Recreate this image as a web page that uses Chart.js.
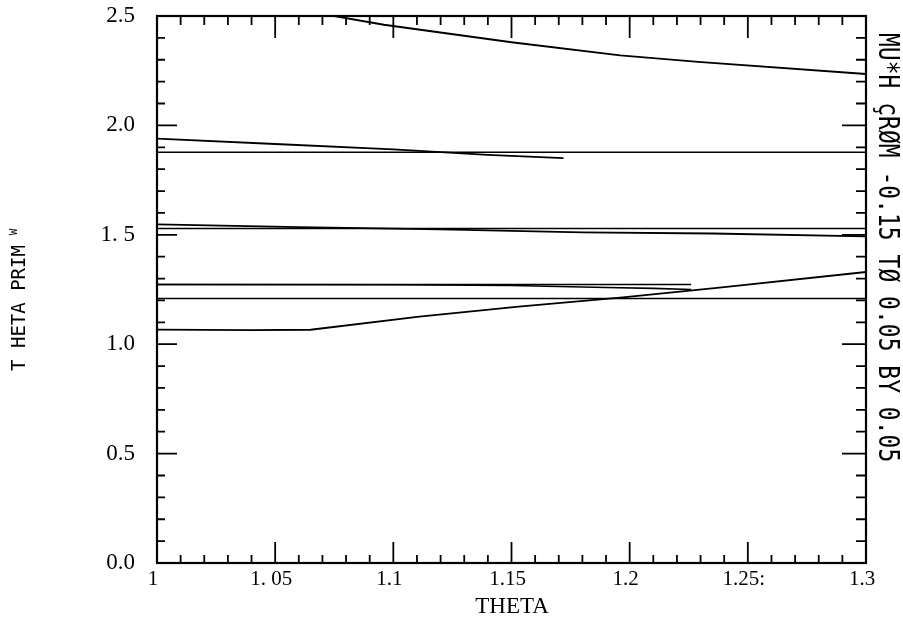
<!DOCTYPE html>
<html>
<head>
<meta charset="utf-8">
<script src="https://cdn.jsdelivr.net/npm/chart.js@4/dist/chart.umd.min.js"></script>
<style>
  html, body { margin: 0; padding: 0; background: #fff; }
  #wrap { width: 903px; height: 626px; }
</style>
</head>
<body>
<div id="wrap"><canvas id="c" width="903" height="626"></canvas></div>
<script>
// Axis ranges and tick labels
const thetaMin = 1.0, thetaMax = 1.3;
const primeMin = 0.0, primeMax = 2.5;
const xTickValues = [1.0, 1.05, 1.1, 1.15, 1.2, 1.25, 1.3];
const xTickLabels = ['1', '1. 05', '1.1', '1.15', '1.2', '1.25:', '1.3'];
const yTickValues = [0.0, 0.5, 1.0, 1.5, 2.0, 2.5];
const yTickLabels = ['0.0', '0.5', '1.0', '1. 5', '2.0', '2.5'];

// Curves of THETA PRIME against THETA
const theta1 = [1.075, 1.096, 1.15, 1.196, 1.229, 1.3];
const prime1 = [2.50, 2.46, 2.38, 2.32, 2.29, 2.235];

const theta2 = [1.0, 1.05, 1.1, 1.14, 1.172];
const prime2 = [1.94, 1.915, 1.89, 1.865, 1.85];

const theta3 = [1.0, 1.06, 1.12, 1.18, 1.235, 1.3];
const prime3 = [1.548, 1.535, 1.525, 1.511, 1.506, 1.493];

const theta4 = [1.0, 1.1, 1.15, 1.19, 1.21, 1.226];
const prime4 = [1.273, 1.272, 1.268, 1.259, 1.255, 1.25];

const theta5 = [1.0, 1.226];
const prime5 = [1.273, 1.273];

const theta6 = [1.0, 1.04, 1.065, 1.111, 1.153, 1.196, 1.238, 1.3];
const prime6 = [1.067, 1.064, 1.066, 1.126, 1.172, 1.213, 1.259, 1.33];

// Constant reference levels spanning the whole THETA range
const levels = [1.877, 1.529, 1.209];

const pts = (xs, ys) => xs.map((x, i) => ({ x: x, y: ys[i] }));
const curve = (xs, ys, w) => ({
  data: pts(xs, ys), borderColor: '#000', borderWidth: w || 1.8,
  pointRadius: 0, fill: false, tension: 0
});

const datasets = [
  curve(theta1, prime1),
  curve(theta2, prime2),
  curve(theta3, prime3),
  curve(theta4, prime4, 1.6),
  curve(theta5, prime5, 1.4),
  curve(theta6, prime6)
];
levels.forEach(v => datasets.push(curve([thetaMin, thetaMax], [v, v], 1.5)));

// Frame, inward ticks and the rotated texts
const framePlugin = {
  id: 'frame',
  afterDatasetsDraw(chart) {
    const ctx = chart.ctx, a = chart.chartArea;
    const xs = chart.scales.x, ys = chart.scales.y;
    ctx.save();
    ctx.strokeStyle = '#000';
    ctx.lineWidth = 2.2;
    ctx.strokeRect(a.left, a.top, a.right - a.left, a.bottom - a.top);
    ctx.lineWidth = 1.8;
    ctx.beginPath();
    for (let i = 0; i <= 30; i++) {
      const v = thetaMin + i * 0.01;
      const px = xs.getPixelForValue(v);
      const major = i % 5 === 0;
      const bl = major ? 21 : 8, tl = major ? 22 : 9;
      ctx.moveTo(px, a.bottom); ctx.lineTo(px, a.bottom - bl);
      ctx.moveTo(px, a.top); ctx.lineTo(px, a.top + tl);
    }
    for (let i = 0; i <= 25; i++) {
      const v = primeMin + i * 0.1;
      const py = ys.getPixelForValue(v);
      const major = i % 5 === 0;
      const ll = major ? 20 : 8, rl = major ? 24 : 10;
      ctx.moveTo(a.left, py); ctx.lineTo(a.left + ll, py);
      ctx.moveTo(a.right, py); ctx.lineTo(a.right - rl, py);
    }
    ctx.stroke();

    ctx.fillStyle = '#000';
    // x axis title
    ctx.font = '23px "Liberation Serif", "Times New Roman", serif';
    ctx.textAlign = 'center';
    ctx.textBaseline = 'middle';
    ctx.fillText('THETA', 512, 607);

    // y axis title, read bottom to top
    ctx.save();
    ctx.translate(20, 308);
    ctx.rotate(-Math.PI / 2);
    ctx.font = '19px "DejaVu Sans Mono", monospace';
    ctx.textAlign = 'center';
    ctx.textBaseline = 'middle';
    ctx.fillText('T HETA PRIM', 0, 0);
    ctx.font = '11px "DejaVu Sans Mono", monospace';
    ctx.fillText('W', 76, -6);
    ctx.restore();

    // parameter note on the right, read top to bottom
    ctx.save();
    ctx.translate(887, 33);
    ctx.rotate(Math.PI / 2);
    ctx.scale(1, 1.2);
    ctx.font = '23px "DejaVu Sans Mono", monospace';
    ctx.textAlign = 'left';
    ctx.textBaseline = 'middle';
    ctx.fillText('MU*H \u00e7R\u00d8M -0.15 T\u00d8 0.05 BY 0.05', 0, 1);
    ctx.restore();
    ctx.restore();
  }
};

new Chart(document.getElementById('c'), {
  type: 'line',
  data: { datasets: datasets },
  options: {
    responsive: false,
    animation: false,
    events: [],
    layout: { padding: { left: 0, top: 16, right: 37, bottom: 0 } },
    plugins: { legend: { display: false }, tooltip: { enabled: false } },
    scales: {
      x: {
        type: 'linear', min: thetaMin, max: thetaMax,
        afterFit(s) { s.height = 63; s.paddingLeft = 0; s.paddingRight = 0; },
        afterBuildTicks(s) { s.ticks = xTickValues.map(v => ({ value: v })); },
        grid: { display: false, drawTicks: false },
        border: { display: false },
        ticks: {
          autoSkip: false, maxRotation: 0, padding: 4, labelOffset: -4,
          color: '#000',
          font: { family: '"Liberation Serif", "Times New Roman", serif', size: 21 },
          callback: (v) => {
            const i = xTickValues.findIndex(t => Math.abs(t - v) < 1e-9);
            return i >= 0 ? xTickLabels[i] : '';
          }
        }
      },
      y: {
        type: 'linear', min: primeMin, max: primeMax,
        afterFit(s) { s.width = 157; s.paddingTop = 0; s.paddingBottom = 0; },
        afterBuildTicks(s) { s.ticks = yTickValues.map(v => ({ value: v })); },
        grid: { display: false, drawTicks: false },
        border: { display: false },
        ticks: {
          autoSkip: false, padding: 22,
          color: '#000',
          font: { family: '"Liberation Serif", "Times New Roman", serif', size: 23 },
          callback: (v) => {
            const i = yTickValues.findIndex(t => Math.abs(t - v) < 1e-9);
            return i >= 0 ? yTickLabels[i] : '';
          }
        }
      }
    }
  },
  plugins: [framePlugin]
});
</script>
</body>
</html>
